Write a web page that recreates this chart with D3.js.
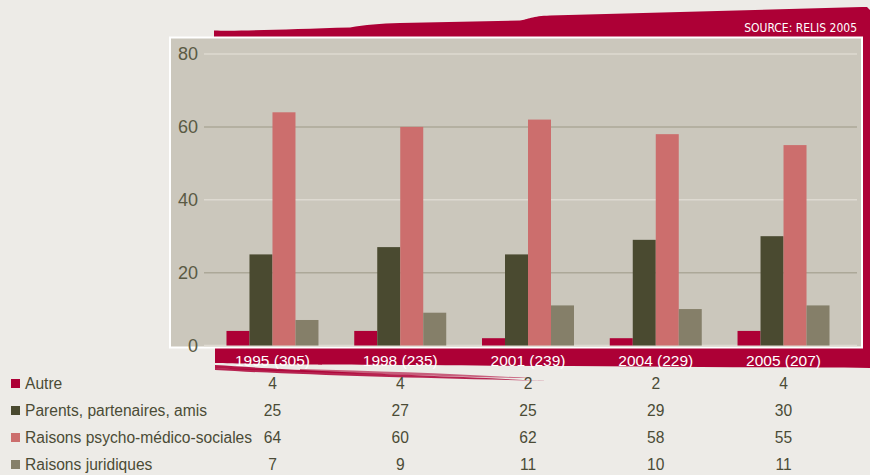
<!DOCTYPE html>
<html><head><meta charset="utf-8">
<script src="https://cdn.jsdelivr.net/npm/d3@7"></script>
<style>
html,body{margin:0;padding:0;background:#edebe7;}
svg{display:block;}
</style></head>
<body>
<svg id="c" width="870" height="475"></svg>
<script>
const categories = ["1995 (305)", "1998 (235)", "2001 (239)", "2004 (229)", "2005 (207)"];
const seriesNames = ["Autre", "Parents, partenaires, amis", "Raisons psycho-médico-sociales", "Raisons juridiques"];
const autre = [4, 4, 2, 2, 4];
const parents = [25, 27, 25, 29, 30];
const psycho = [64, 60, 62, 58, 55];
const juridiques = [7, 9, 11, 10, 11];
const yTicks = [0, 20, 40, 60, 80];
const sourceText = "SOURCE: RELIS 2005";

const seriesValues = [autre, parents, psycho, juridiques];
const colors = ["#ad0036", "#4a4a30", "#cc6e6d", "#857f69"];

const svg = d3.select("#c");
const red = "#ad0036";

// top decorative red shape
svg.append("path")
  .attr("d", "M214,40 L214,30.5 C240,31.5 290,29 350,27.5 C365,25 380,23.5 400,23 L520,20.5 C528,19.5 532,16 550,15.5 L862,7 L867,7 L870,10 L870,360 L858,360 L858,40 Z")
  .attr("fill", red);

// bottom red band
svg.append("path")
  .attr("d", "M215,345 L870,345 L870,368 C700,367 400,365 300,364.5 C260,364 230,363.5 215,363 Z")
  .attr("fill", red);
// swooshes
svg.append("path")
  .attr("d", "M215,365 C260,368 320,371 410,375 C330,373 260,371 215,368 Z")
  .attr("fill", red).attr("opacity", 0.9);
svg.append("path")
  .attr("d", "M215,368 C300,371 420,375 548,381 C420,378 300,375 215,370 Z")
  .attr("fill", red).attr("opacity", 0.85);
svg.append("path")
  .attr("d", "M300,369 C380,371 460,374 530,378 C460,377 380,374 300,371 Z")
  .attr("fill", red).attr("opacity", 0.6);

// source
svg.append("text")
  .attr("x", 857).attr("y", 32)
  .attr("text-anchor", "end")
  .attr("font-family", "'Liberation Sans Narrow', 'DejaVu Sans Condensed', Arial, sans-serif")
  .attr("font-size", 12)
  .attr("fill", "#ffffff")
  .text(sourceText);

// panel
svg.append("rect")
  .attr("x", 170).attr("y", 37.5).attr("width", 692).attr("height", 310)
  .attr("fill", "#cbc7bc").attr("stroke", "#ffffff").attr("stroke-width", 2);

const y = d3.scaleLinear().domain([0, 80]).range([345.5, 54]);
const x = d3.scaleBand().domain(categories).range([208.6, 847.4]).paddingInner(0.28).paddingOuter(0.14);
const xs = d3.scaleBand().domain(seriesNames).range([0, x.bandwidth()]).padding(0);

// gridlines
const gridColor = v => (v === 20 || v === 60) ? "#aca898" : "#dedad1";
svg.append("g").selectAll("line").data(yTicks).join("line")
  .attr("x1", 204).attr("x2", 857)
  .attr("y1", d => y(d)).attr("y2", d => y(d))
  .attr("stroke", gridColor).attr("stroke-width", 1.5);

// y axis labels via d3 axis
const yAxis = svg.append("g").attr("transform", "translate(200,0)")
  .call(d3.axisLeft(y).tickValues(yTicks).tickSize(0).tickPadding(2).tickFormat(d3.format("d")));
yAxis.select(".domain").remove();
yAxis.selectAll("text")
  .attr("font-family", "'Liberation Sans', Arial, sans-serif")
  .attr("font-size", 18).attr("fill", "#5a5a44");

// bars
const data = categories.map((c, i) => ({cat: c, vals: seriesNames.map((s, j) => ({s, v: seriesValues[j][i], j}))}));
const groups = svg.append("g").selectAll("g").data(data).join("g")
  .attr("transform", d => `translate(${x(d.cat)},0)`);
groups.selectAll("rect").data(d => d.vals).join("rect")
  .attr("x", d => xs(d.s))
  .attr("width", xs.bandwidth())
  .attr("y", d => y(d.v))
  .attr("height", d => y(0) - y(d.v))
  .attr("fill", d => colors[d.j]);

// x labels in red band
const xAxis = svg.append("g").attr("transform", "translate(0,355)")
  .call(d3.axisBottom(x).tickSize(0).tickPadding(0));
xAxis.select(".domain").remove();
xAxis.selectAll("text")
  .attr("font-family", "'Liberation Sans', Arial, sans-serif")
  .attr("font-size", 15.5).attr("fill", "#ffffff");

// table
const rowY = [384, 411, 438, 465];
const tbl = svg.append("g");
seriesNames.forEach((s, j) => {
  tbl.append("rect").attr("x", 11).attr("y", rowY[j] - 5).attr("width", 9).attr("height", 9).attr("fill", colors[j]);
  tbl.append("text").attr("x", 25).attr("y", rowY[j]).attr("dy", "0.35em")
    .attr("font-family", "'Liberation Sans', Arial, sans-serif").attr("font-size", 15.6).attr("fill", "#4b4b36")
    .text(s);
  categories.forEach((c, i) => {
    tbl.append("text").attr("x", x(c) + x.bandwidth() / 2).attr("y", rowY[j]).attr("dy", "0.35em")
      .attr("text-anchor", "middle")
      .attr("font-family", "'Liberation Sans', Arial, sans-serif").attr("font-size", 15.6).attr("fill", "#4b4b36")
      .text(seriesValues[j][i]);
  });
});
</script>
</body></html>
